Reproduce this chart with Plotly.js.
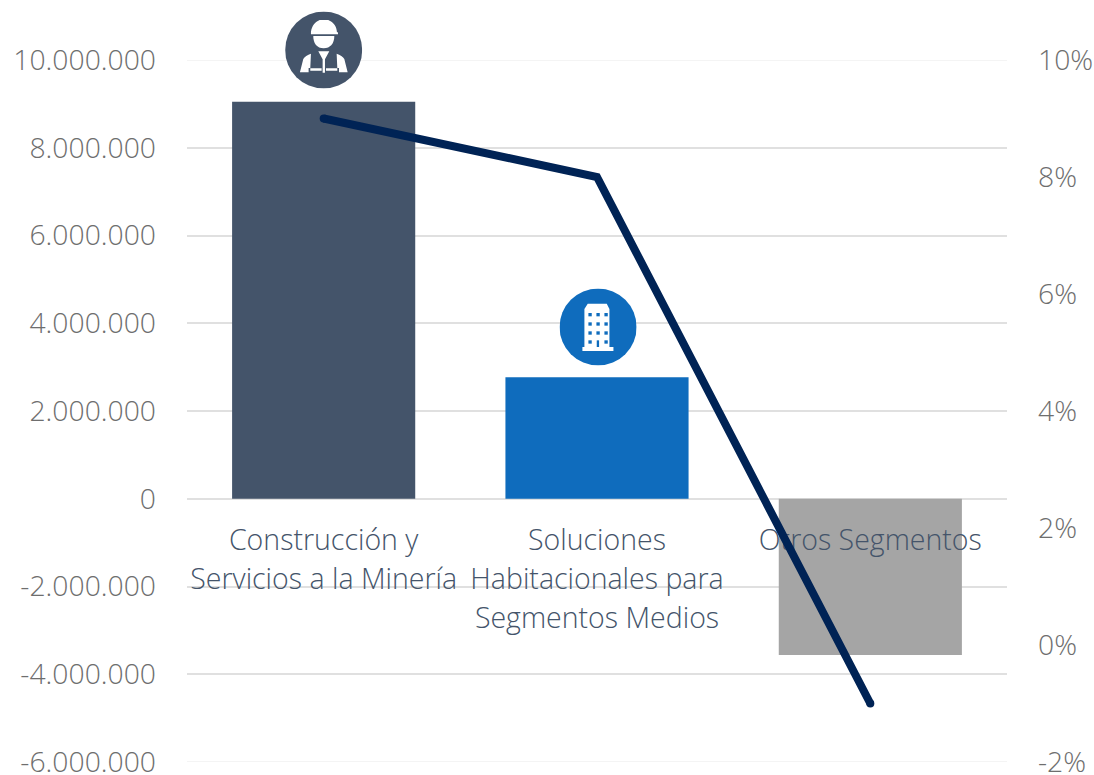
<!DOCTYPE html>
<html><head><meta charset="utf-8">
<script src="https://cdn.plot.ly/plotly-3.0.1.min.js"></script>
<style>html,body{margin:0;padding:0;background:#fff}#c{width:1094px;height:775px}</style>
</head><body><div id="c"></div>
<script>
const categories = ["Construcción y Servicios a la Minería","Soluciones Habitacionales para Segmentos Medios","Otros Segmentos"];
const labelLines = [["Construcción y","Servicios a la Minería"],["Soluciones","Habitacionales para","Segmentos Medios"],["Otros Segmentos"]];
const barValues = [9050000,2770000,-3560000];
const barColors = ["#44546a","#0f6cbd","#a5a5a5"];
const lineValues = [9.0,8.0,-1.0];
const leftTicks = [10000000,8000000,6000000,4000000,2000000,0,-2000000,-4000000,-6000000];
const leftLabels = ["10.000.000","8.000.000","6.000.000","4.000.000","2.000.000","0","-2.000.000","-4.000.000","-6.000.000"];
const rightTicks = [10,8,6,4,2,0,-2];
const rightLabels = ["10%","8%","6%","4%","2%","0%","-2%"];

const FONT = '"Open Sans", sans-serif';
const labelX = [], labelY = [], labelT = [];
labelLines.forEach((ls,i)=>ls.forEach((t,j)=>{labelX.push(categories[i]);labelY.push(-1000000-j*890000);labelT.push(t);}));

const svg = inner => 'data:image/svg+xml;utf8,' + encodeURIComponent('<svg xmlns="http://www.w3.org/2000/svg" width="77" height="77" viewBox="0 0 77 77">'+inner+'</svg>');
const worker = svg('<circle cx="38.5" cy="38.5" r="38.5" fill="#44546a"/><g transform="translate(-24.2,-11.5) scale(0.3333)" fill="#fff">'
 +'<path d="M150 97 C152 75 165 65 172 62 L176 60 L202 60 L206 62 C218 68 227 78 228 97 L231 97 L231 103 L150 103 Z"/>'
 +'<path d="M157 108 L220 108 C220 130 208 145 188 145 C168 145 157 130 157 108 Z"/>'
 +'<path d="M117 217 L127 177 C130 170 140 165 150 161 L148 204 L143 204 L143 217 Z"/>'
 +'<path d="M260 217 L250 177 C247 170 237 165 227 161 L229 204 L234 204 L234 217 Z"/>'
 +'<path d="M172 154 L205 154 L192 178 L192 218 L185 218 L185 178 Z"/>'
 +'<path d="M148 205 L182 205 L182 212 L148 212 Z"/><path d="M195 205 L229 205 L229 212 L195 212 Z"/>'
 +'</g>');
let win = '';
[145,169,193].forEach(x=>[100,128,155,182].forEach(y=>{ if(!(x===169&&y===182)) win += '<rect x="'+x+'" y="'+y+'" width="10" height="10"/>'; }));
const building = svg('<circle cx="38.5" cy="38.5" r="38.5" fill="#0f6cbd"/><g transform="translate(-19.5,-8.8) scale(0.3333)">'
 +'<path fill="#fff" d="M143 72 L200 72 L208 88 L208 202 L220 202 L220 214 L127 214 L127 202 L133 202 L133 88 Z"/>'
 +'<g fill="#0f6cbd">'+win+'<rect x="170" y="182" width="7" height="20"/></g></g>');

const traces = [
 {type:'bar',x:categories,y:barValues,width:0.67,marker:{color:barColors,line:{width:0}},xaxis:'x',yaxis:'y',hoverinfo:'skip'},
 {type:'scatter',mode:'text',x:labelX,y:labelY,text:labelT,textposition:'middle center',cliponaxis:false,
  textfont:{family:FONT,size:28.5,color:'#44546a',weight:300},xaxis:'x',yaxis:'y',hoverinfo:'skip'},
 {type:'scatter',mode:'lines+markers',x:categories,y:lineValues,line:{color:'#002355',width:8,shape:'linear'},
  marker:{color:'#002355',size:[8,0,8],opacity:1,line:{width:0}},cliponaxis:false,xaxis:'x',yaxis:'y2',hoverinfo:'skip'}
];
const tickFont = {family:FONT,size:28.3,color:'#6e6e6e',weight:300};
const layout = {
 width:1094,height:775,showlegend:false,paper_bgcolor:'#fff',plot_bgcolor:'rgba(0,0,0,0)',
 margin:{l:187,r:87,t:60,b:13,pad:0},bargap:0.33,
 xaxis:{type:'category',categoryorder:'array',categoryarray:categories,range:[-0.5,2.5],showticklabels:false,showgrid:false,zeroline:false,showline:false,ticks:''},
 yaxis:{range:[-6000000,10000000],tickmode:'array',tickvals:leftTicks,ticktext:leftLabels,tickfont:tickFont,ticklabeloverflow:'allow',
  showgrid:true,gridcolor:'#e0e0e0',gridwidth:2,zeroline:false,showline:false,ticks:'',ticklabelstandoff:30},
 yaxis2:{range:[-2,10],overlaying:'y',side:'right',tickmode:'array',tickvals:rightTicks,ticktext:rightLabels,tickfont:tickFont,ticklabeloverflow:'allow',
  showgrid:false,zeroline:false,showline:false,ticks:'',ticklabelstandoff:30},
 shapes:[leftTicks[0],leftTicks[leftTicks.length-1]].map(v=>({type:'line',xref:'paper',x0:0,x1:1,yref:'y',y0:v,y1:v,line:{color:'#f4f4f4',width:2},layer:'below'})),
 images:[
  {source:worker,xref:'x',yref:'paper',x:0,y:1.0142,sizex:0.282,sizey:0.1097,xanchor:'center',yanchor:'middle',sizing:'stretch',layer:'above'},
  {source:building,xref:'x',yref:'paper',x:1.004,y:0.6197,sizex:0.282,sizey:0.1097,xanchor:'center',yanchor:'middle',sizing:'stretch',layer:'above'}
 ]
};
Plotly.newPlot('c',traces,layout,{displayModeBar:false,staticPlot:true});
</script></body></html>
